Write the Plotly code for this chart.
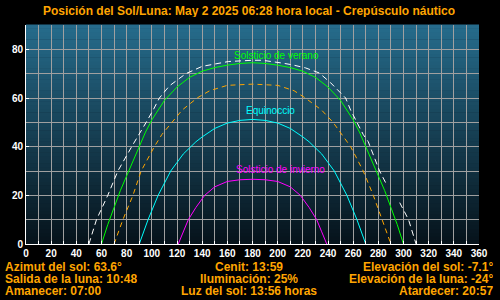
import plotly.graph_objects as go

# ---- data (azimuth deg, elevation deg) ----
summer_az = [60, 65, 70, 75, 80, 85, 90, 95, 100, 110, 120, 130, 140, 150, 160, 170, 180,
             190, 200, 210, 220, 230, 240, 250, 260, 265, 270, 275, 280, 285, 290, 295, 300]
summer_el = [0, 8, 15, 22, 28, 34, 40, 46, 51, 59, 64.5, 68.5, 71, 72.5, 73.5, 74.2, 74.5,
             74.2, 73.5, 72.5, 71, 68.5, 64.5, 59, 51, 46, 40, 34, 28, 22, 15, 8, 0]

equinox_az = [90, 97, 105, 110, 115, 120, 125, 130, 135, 140, 150, 160, 170, 180,
              190, 200, 210, 220, 225, 230, 235, 240, 245, 250, 255, 263, 270]
equinox_el = [0, 10, 20, 25, 30, 33.5, 37, 39.5, 42, 44, 47.5, 49.7, 50.8, 51.2,
              50.8, 49.7, 47.5, 44, 42, 39.5, 37, 33.5, 30, 25, 20, 10, 0]

winter_az = [121, 125, 129, 135, 142, 150, 160, 170, 180, 190, 200, 210, 218, 225, 231, 235, 239]
winter_el = [0, 5, 10, 15, 20, 23.5, 25.7, 26.4, 26.6, 26.4, 25.7, 23.5, 20, 15, 10, 5, 0]

sun_az = [70, 77, 85, 91.5, 102, 108, 116, 124, 136, 146, 160, 180,
          200, 213, 222, 235, 244, 251, 258, 268, 276, 283, 290]
sun_el = [0, 10, 20, 30, 40, 45, 50, 55, 60, 63, 65.2, 65.7,
          65.2, 63, 60, 55, 50, 45, 40, 30, 20, 10, 0]

moon_az = [50, 56, 65, 73, 84, 90, 95.5, 101, 106, 114, 127, 140, 161, 180, 188, 203, 211,
           222, 233, 242, 254, 258, 263, 268, 272, 277, 281, 286, None, 297, 304, 310]
moon_el = [0, 10, 20, 30, 40, 45, 50, 55, 60, 65, 70, 73, 75, 75.5, 75.5, 74.4, 73.7,
           72.4, 70.3, 66.3, 60, 55, 50, 45, 42, 35, 30, 25, None, 17, 10, 0]

labels = ["Solsticio de verano", "Equinoccio", "Solsticio de invierno"]
label_az = [199, 194, 202]
label_el = [77.5, 55, 30.6]
label_colors = ["#00ff00", "#00ffff", "#ff00ff"]

title = "Posición del Sol/Luna: May 2 2025 06:28 hora local - Crepúsculo náutico"
info_left = ["Azimut del sol: 63.6°", "Salida de la luna: 10:48", "Amanecer: 07:00"]
info_center = ["Cenit: 13:59", "Iluminación: 25%", "Luz del sol: 13:56 horas"]
info_right = ["Elevación del sol: -7.1°", "Elevación de la luna: -24°", "Atardecer: 20:57"]

ORANGE = "#ffa500"
FONT = "Liberation Sans, Arial, sans-serif"

L, R, T, B = 26, 19, 25, 56
W, H = 500, 300
pw, ph = W - L - R, H - T - B

def px_x(x):
    return (x - L) / pw

def px_y(y):
    return (H - B - y) / ph

fig = go.Figure()

def add_line(x, y, color, dash="solid"):
    fig.add_trace(go.Scatter(x=x, y=y, mode="lines", connectgaps=False,
                             line=dict(color=color, width=1, dash=dash),
                             hoverinfo="skip", showlegend=False))

add_line(moon_az, moon_el, "#ffffff", "6px,4px")
add_line(sun_az, sun_el, ORANGE, "5px,4px")
add_line(summer_az, summer_el, "#00ff00")
add_line(equinox_az, equinox_el, "#00ffff")
add_line(winter_az, winter_el, "#ff00ff")

# gradient background bands (below gridlines)
top = (38, 108, 140)
bot = (6, 18, 26)
n = 60
shapes = []
for i in range(n):
    t = (i + 0.5) / n
    c = tuple(int(round(bot[k] + (top[k] - bot[k]) * t)) for k in range(3))
    shapes.append(dict(type="rect", xref="x domain", yref="y domain",
                       x0=0, x1=1, y0=i / n, y1=(i + 1) / n + 0.002,
                       fillcolor="rgb(%d,%d,%d)" % c, line=dict(width=0), layer="below"))

annotations = []
for txt, ax_, el_, col in zip(labels, label_az, label_el, label_colors):
    annotations.append(dict(x=ax_, y=el_, xref="x", yref="y", text=txt, showarrow=False,
                            font=dict(family=FONT, size=10, color=col),
                            xanchor="center", yanchor="middle"))

annotations.append(dict(x=px_x(250), y=px_y(11), xref="paper", yref="paper",
                        text="<b>%s</b>" % title, showarrow=False,
                        font=dict(family=FONT, size=12, color=ORANGE),
                        xanchor="center", yanchor="middle", height=13))

row_y = [267, 279, 291]
for i in range(3):
    for txts, xpos, anchor in ((info_left, 3, "left"), (info_center, 250, "center"),
                               (info_right, 497, "right")):
        annotations.append(dict(text="<b>%s</b>" % txts[i], showarrow=False,
                                font=dict(family=FONT, size=12, color=ORANGE),
                                xref="paper", yref="paper", height=12, valign="middle",
                                xanchor=anchor, yanchor="middle",
                                x=px_x(xpos), y=px_y(row_y[i])))

fig.update_layout(
    width=W, height=H,
    margin=dict(l=L, r=R, t=T, b=B, pad=0),
    paper_bgcolor="#000000",
    plot_bgcolor="#0a1a24",
    shapes=shapes,
    annotations=annotations,
    showlegend=False,
    font=dict(family=FONT, color="#ffffff"),
)

fig.update_xaxes(range=[0, 360], dtick=20, tick0=0, showgrid=True, gridcolor="#a0a0a0", gridwidth=1,
                 showline=True, linecolor="#ffffff", linewidth=1,
                 ticks="inside", ticklen=3, tickcolor="#ffffff",
                 minor=dict(dtick=10, showgrid=True, gridcolor="#a0a0a0", ticks="inside",
                            ticklen=3, tickcolor="#ffffff"),
                 tickfont=dict(family=FONT, size=10, color="#ffffff", weight="bold"),
                 zeroline=False, fixedrange=True)
fig.update_yaxes(range=[0, 90], dtick=20, tick0=0, showgrid=True, gridcolor="#a0a0a0", gridwidth=1,
                 showline=True, linecolor="#ffffff", linewidth=1,
                 ticks="inside", ticklen=3, tickcolor="#ffffff",
                 minor=dict(dtick=10, showgrid=True, gridcolor="#a0a0a0"),
                 tickfont=dict(family=FONT, size=10, color="#ffffff", weight="bold"),
                 zeroline=False, fixedrange=True)

fig.write_html("out.html", config={"displayModeBar": False})
